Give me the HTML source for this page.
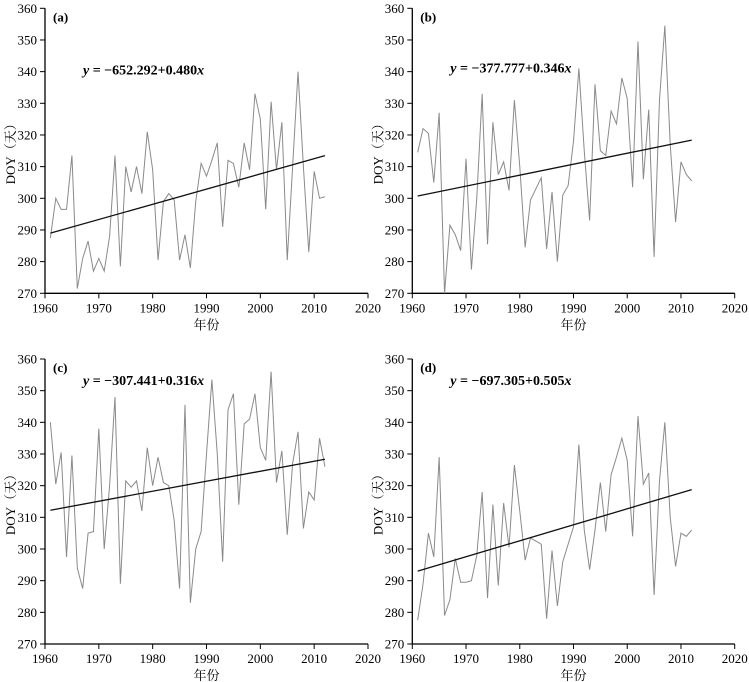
<!DOCTYPE html>
<html><head><meta charset="utf-8"><style>
html,body{margin:0;padding:0;background:#fff;}
svg{display:block;font-family:"Liberation Serif","Noto Serif CJK SC",serif;}
</style></head><body>
<svg id="chart" width="749" height="682" viewBox="0 0 749 682" xmlns="http://www.w3.org/2000/svg"></svg>
<script>
const years = [];
for (let y = 1961; y <= 2012; y++) years.push(y);
const xTicks = [1960, 1970, 1980, 1990, 2000, 2010, 2020];
const yTicks = [270, 280, 290, 300, 310, 320, 330, 340, 350, 360];
const panelLabels = ["(a)", "(b)", "(c)", "(d)"];
const intercepts = [-652.292, -377.777, -307.441, -697.305];
const slopes = [0.480, 0.346, 0.316, 0.505];
const equations = ["−652.292+0.480", "−377.777+0.346", "−307.441+0.316", "−697.305+0.505"];
const seriesA = [287.5,300,296.5,296.5,313.5,271.5,281,286.5,277,281,277,288,313.5,278.5,310,302,310,301.5,321,309,280.5,299,301.5,299.5,280.5,288.5,278,299,311,307,312,317.5,291,312,311,303.5,317.5,309,333,325,296.5,330.5,309,324,280.5,310,340,310,283,308.5,300,300.5];
const seriesB = [314.5,322,320.5,305,327,270,291.5,288.5,283.5,312.5,277.5,300,333,285.5,324,307.5,311.5,302.5,331,310,284.5,299.5,303,306.5,284,302,280,301,304,318,341,315,293,336,315,313.5,327.5,323.5,338,331.5,303.5,349.5,306,328,281.5,331,354.5,317,292.5,311.5,307.5,305.5];
const seriesC = [340,320.5,330.5,297.5,329.5,294,287.5,305,305.5,338,300,320,348,289,321.5,319.5,321.5,312,332,320,329,321,320,309,287.5,345.5,283,300,305.5,330,353.5,330,296,344,349,314,339.5,341,349,332,328,356,321,331,304.5,327,337,306.5,318,315.5,335,326];
const seriesD = [277.5,289,305,297.5,329,279,284,297,289.5,289.5,290,298,318,284.5,314,288.5,314.5,300.5,326.5,312,296.5,303.5,302.5,301.5,278,299.5,282,296,301.5,307,333,306,293.5,306,321,305.5,323.5,329,335,328,304,342,320.5,324,285.5,321.5,340,310,294.5,305,304,306];
const allSeries = [seriesA, seriesB, seriesC, seriesD];

const NS = "http://www.w3.org/2000/svg";
const svg = document.getElementById("chart");
const panels = [
  {x0:45, x1:368, yTop:8.3, yBot:293.3, eqDx:38, eqDy:66},
  {x0:412.3, x1:734.7, yTop:8.3, yBot:293.3, eqDx:38, eqDy:64},
  {x0:45, x1:368, yTop:359, yBot:644, eqDx:38, eqDy:26},
  {x0:412.3, x1:734.7, yTop:359, yBot:644, eqDx:38, eqDy:26}
];
function mk(tag, attrs, parent){
  const e = document.createElementNS(NS, tag);
  for (const k in attrs) e.setAttribute(k, attrs[k]);
  (parent||svg).appendChild(e);
  return e;
}
panels.forEach((p, i) => {
  const g = mk("g", {});
  
  
  const sx = v => p.x0 + (v - 1960) / 60 * (p.x1 - p.x0);
  const sy = v => p.yBot - (v - 270) / 90 * (p.yBot - p.yTop);
  const ax = mk("path", {d:`M${p.x0},${p.yTop} V${p.yBot} H${p.x1}`, fill:"none", stroke:"#000", "stroke-width":1.3}, g);
  
  
  yTicks.forEach(t => {
    const y = sy(t);
    mk("line", {x1:p.x0-5, x2:p.x0, y1:y, y2:y, stroke:"#000", "stroke-width":1}, g);
    const tx = mk("text", {x:p.x0-8, y:y+4.5, "text-anchor":"end", "font-size":13}, g);
    tx.textContent = t;
    
    
  });
  xTicks.forEach(t => {
    const x = sx(t);
    mk("line", {x1:x, x2:x, y1:p.yBot, y2:p.yBot+5, stroke:"#000", "stroke-width":1}, g);
    const tx = mk("text", {x:x, y:p.yBot+19, "text-anchor":"middle", "font-size":13}, g);
    tx.textContent = t;
    
    
  });
  const xt = mk("text", {x:(p.x0+p.x1)/2, y:p.yBot+36, "text-anchor":"middle", "font-size":13}, g);
  xt.textContent = "年份";
  
  
  const cy = (p.yTop+p.yBot)/2;
  const yt = mk("text", {x:p.x0-30, y:cy, "text-anchor":"middle", "font-size":13, transform:`rotate(-90 ${p.x0-30} ${cy})`}, g);
  yt.textContent = "DOY（天）";
  
  
  const data = allSeries[i];
  const pts = data.map((v, k) => `${sx(years[k]).toFixed(2)},${sy(v).toFixed(2)}`).join(" ");
  const pl = mk("polyline", {points:pts, fill:"none", stroke:"#8a8a8a", "stroke-width":1}, g);
  
  
  const ya = intercepts[i] + slopes[i]*years[0], yb = intercepts[i] + slopes[i]*years[years.length-1];
  const tl = mk("line", {x1:sx(years[0]), y1:sy(ya), x2:sx(years[years.length-1]), y2:sy(yb), stroke:"#111", "stroke-width":1.3}, g);
  
  
  const pl2 = mk("text", {x:p.x0+8, y:p.yTop+13, "font-size":13, "font-weight":"bold"}, g);
  pl2.textContent = panelLabels[i];
  
  
  const eq = mk("text", {x:p.x0+p.eqDx, y:p.yTop+p.eqDy, "font-size":14, "font-weight":"bold"}, g);
  
  
  const s1 = mk("tspan", {"font-style":"italic"}, eq); s1.textContent = "y";
  const s2 = mk("tspan", {}, eq); s2.textContent = " = " + equations[i];
  const s3 = mk("tspan", {"font-style":"italic"}, eq); s3.textContent = "x";
});
</script>
</body></html>
